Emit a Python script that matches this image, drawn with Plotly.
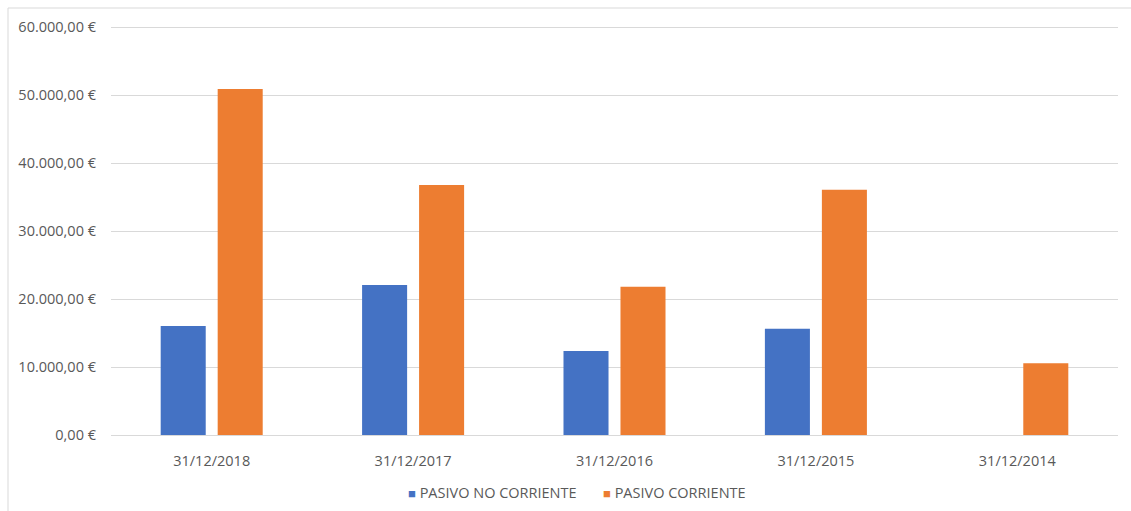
import plotly.graph_objects as go

categories = ["31/12/2018", "31/12/2017", "31/12/2016", "31/12/2015", "31/12/2014"]
pasivo_no_corriente = [16030, 22060, 12350, 15630, 0]
pasivo_corriente = [50900, 36760, 21810, 36080, 10540]
series_names = ["PASIVO NO CORRIENTE", "PASIVO CORRIENTE"]
series_colors = ["#4472C4", "#ED7D31"]
tick_values = [0, 10000, 20000, 30000, 40000, 50000, 60000]
tick_labels = ["0,00 €", "10.000,00 €", "20.000,00 €", "30.000,00 €",
               "40.000,00 €", "50.000,00 €", "60.000,00 €"]

FONT = "Open Sans, Noto Sans, sans-serif"
TXT = "#595959"
GRID = "#D9D9D9"

L, R, T, B = 111, 13, 24, 76
W, H = 1131, 511
PW, PH = W - L - R, H - T - B
Y_TOP = (H - B - T) / 408 * 60000  # keeps 60.000 at pixel row 27

fig = go.Figure()
for vals, name, col in zip([pasivo_no_corriente, pasivo_corriente], series_names, series_colors):
    fig.add_trace(go.Bar(x=categories, y=vals, name=name,
                         marker=dict(color=col, line=dict(width=0))))

def px_x(p):
    return (p - L) / PW

def px_y(p):
    return (H - B - p) / PH

legend_x = [406, 601]
annotations = []
for name, col, lx in zip(series_names, series_colors, legend_x):
    annotations.append(dict(
        xref="paper", yref="paper", x=px_x(lx), y=px_y(492),
        xanchor="left", yanchor="middle", showarrow=False,
        text=f'<span style="color:{col};font-size:13px">■</span> {name}',
        font=dict(family=FONT, size=14.5, color=TXT)))

fig.update_layout(
    width=W, height=H,
    margin=dict(l=L, r=R, t=T, b=B, autoexpand=False),
    paper_bgcolor="white", plot_bgcolor="white",
    barmode="group", bargap=0.434, bargroupgap=0.21,
    font=dict(family=FONT, size=14.5, color=TXT),
    showlegend=False,
    xaxis=dict(showgrid=False, showline=True, linecolor=GRID, linewidth=1,
               ticks="", tickfont=dict(family=FONT, size=14.5, color=TXT),
               ticklabelstandoff=13, automargin=False, fixedrange=True),
    yaxis=dict(range=[0, Y_TOP], tickvals=tick_values, ticktext=tick_labels,
               showgrid=True, gridcolor=GRID, gridwidth=1, zeroline=False,
               showline=False, ticks="", ticklabelstandoff=14, automargin=False,
               tickfont=dict(family=FONT, size=14.5, color=TXT), fixedrange=True),
    annotations=annotations,
    shapes=[
        dict(type="line", xref="paper", yref="paper",
             x0=px_x(8), x1=px_x(W), y0=px_y(8), y1=px_y(8),
             line=dict(color=GRID, width=1)),
        dict(type="line", xref="paper", yref="paper",
             x0=px_x(8), x1=px_x(8), y0=px_y(8), y1=px_y(H),
             line=dict(color=GRID, width=1)),
    ],
)

fig.write_html("out.html")
